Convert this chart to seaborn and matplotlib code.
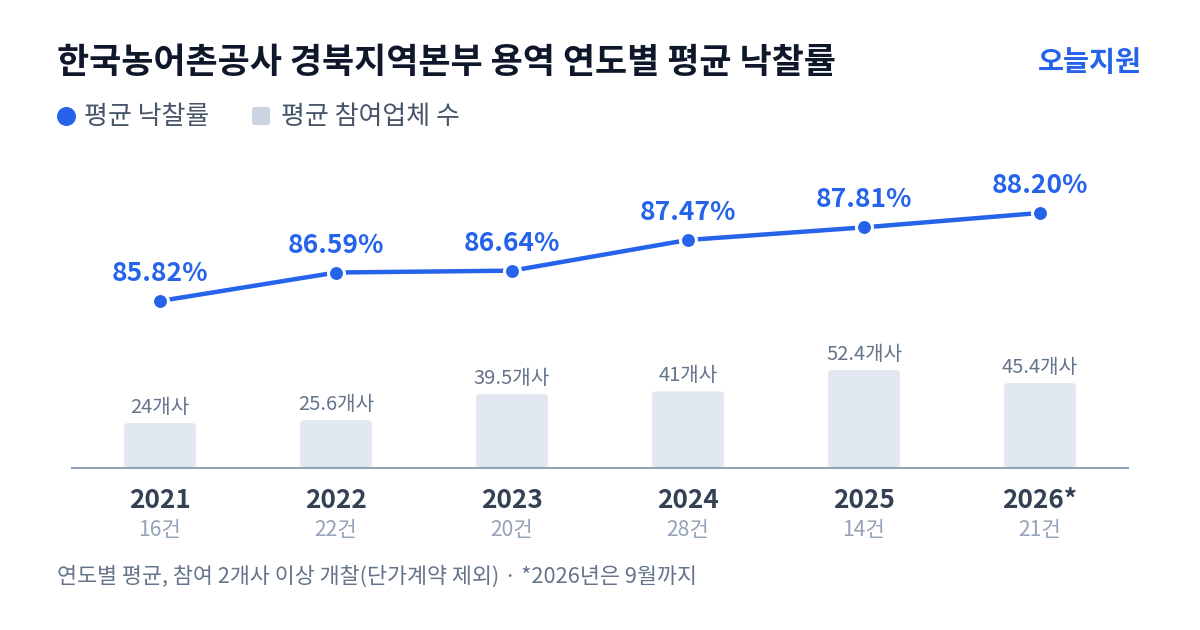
import matplotlib
matplotlib.use("Agg")
import matplotlib.pyplot as plt
from matplotlib.patches import FancyBboxPatch
import seaborn as sns
import pandas as pd

# ---- data ----
years = ["2021", "2022", "2023", "2024", "2025", "2026*"]
win_rate = [85.82, 86.59, 86.64, 87.47, 87.81, 88.20]
bidders = [24, 25.6, 39.5, 41, 52.4, 45.4]
counts = [16, 22, 20, 28, 14, 21]

title = "한국농어촌공사 경북지역본부 용역 연도별 평균 낙찰률"
brand = "오늘지원"
legend_line = "평균 낙찰률"
legend_bar = "평균 참여업체 수"
footnote = "연도별 평균, 참여 2개사 이상 개찰(단가계약 제외) · *2026년은 9월까지"

BLUE = "#2563eb"
BAR = "#e2e8f0"
BAR_LEG = "#cbd5e1"
DARK = "#0f172a"
SLATE = "#334155"
MUTED = "#64748b"
LIGHT = "#94a3b8"

sns.set_theme(style="white")
FONT = ["Noto Sans CJK KR", "DejaVu Sans"]
plt.rcParams["font.family"] = FONT

df = pd.DataFrame({"year": years, "rate": win_rate, "bidders": bidders,
                   "pos": list(range(len(years)))})

W, H = 1200, 630
fig = plt.figure(figsize=(12, 6.3), dpi=100)
fig.patch.set_facecolor("white")

# axes spans x 72..1128 px, y 140..468 px (from top)
left, right, top, bottom = 72, 1128, 140, 468
ax = fig.add_axes([left / W, (H - bottom) / H, (right - left) / W, (bottom - top) / H])
ax.set_facecolor("none")

sns.barplot(data=df, x="pos", y="bidders", color=BAR, width=72 / 176,
            ax=ax, order=list(range(len(years))), saturation=1)
ax.set_xlim(-0.5, len(years) - 0.5)
px_per_unit = 1.87
ax.set_ylim(0, (bottom - top) / px_per_unit)

# rounded bars
rx = 4 / 176
ry = 4 / px_per_unit
for p in list(ax.patches):
    x0, y0 = p.get_x(), p.get_y()
    w, h = p.get_width(), p.get_height()
    p.set_visible(False)
    fb = FancyBboxPatch((x0, y0), w, h,
                        boxstyle=f"round,pad=0,rounding_size={rx}",
                        mutation_aspect=ry / rx, facecolor=BAR, edgecolor="none",
                        zorder=2)
    ax.add_patch(fb)

for i, v in enumerate(bidders):
    lbl = f"{v:g}개사"
    ax.annotate(lbl, (i, v), xytext=(0, 3.5), textcoords="offset points",
                ha="center", va="bottom", fontsize=14.5, color=MUTED)

for s in ["top", "right", "left"]:
    ax.spines[s].set_visible(False)
ax.spines["bottom"].set_color(LIGHT)
ax.spines["bottom"].set_linewidth(1.5)
ax.set_yticks([])
ax.set_ylabel("")
ax.set_xlabel("")
ax.set_xticks(range(len(years)))
ax.set_xticklabels(years, fontsize=18.8, fontweight="bold", color=SLATE)
ax.tick_params(axis="x", length=0, pad=13.5)
for i, c in enumerate(counts):
    ax.text(i, -0.19, f"{c}건", transform=ax.get_xaxis_transform(),
            ha="center", va="center", fontsize=15.2, color=LIGHT)

# line on twin axis
ax2 = ax.twinx()
sns.lineplot(data=df, x="pos", y="rate", ax=ax2, color=BLUE, linewidth=3.2,
             marker="o", markersize=11.5, markeredgecolor="white",
             markeredgewidth=2.2, markerfacecolor=BLUE, zorder=5)
ppu = 37.0
ax2.set_ylim(85.82 - (bottom - 301) / ppu, 85.82 + (301 - top) / ppu)
ax2.set_xlim(-0.5, len(years) - 0.5)
ax2.axis("off")
for i, v in enumerate(win_rate):
    ax2.annotate(f"{v:.2f}%", (i, v), xytext=(0, 10), textcoords="offset points",
                 ha="center", va="bottom", fontsize=19, fontweight="bold", color=BLUE)

# overlay axes in pixel coords for header / legend / footnote
lax = fig.add_axes([0, 0, 1, 1], facecolor="none")
lax.set_xlim(0, W)
lax.set_ylim(H, 0)
lax.axis("off")

lax.text(57, 63, title, fontsize=25.2, fontweight="bold",
         color=DARK, ha="left", va="center")
lax.text(1142, 63, brand, fontsize=20.4, fontweight="bold",
         color=BLUE, ha="right", va="center")

lax.scatter([66], [116], s=160, color=BLUE, zorder=3)
lax.add_patch(FancyBboxPatch((252, 107), 18, 18, boxstyle="round,pad=0,rounding_size=2.5",
                             facecolor=BAR_LEG, edgecolor="none"))
lax.text(84, 116, legend_line, fontsize=18.7, color="#475569", ha="left", va="center")
lax.text(281, 116, legend_bar, fontsize=18.7, color="#475569", ha="left", va="center")

lax.text(57, 577, footnote, fontsize=15.7, color=MUTED, ha="left", va="center")

fig.savefig("out.png", dpi=100, facecolor="white")
